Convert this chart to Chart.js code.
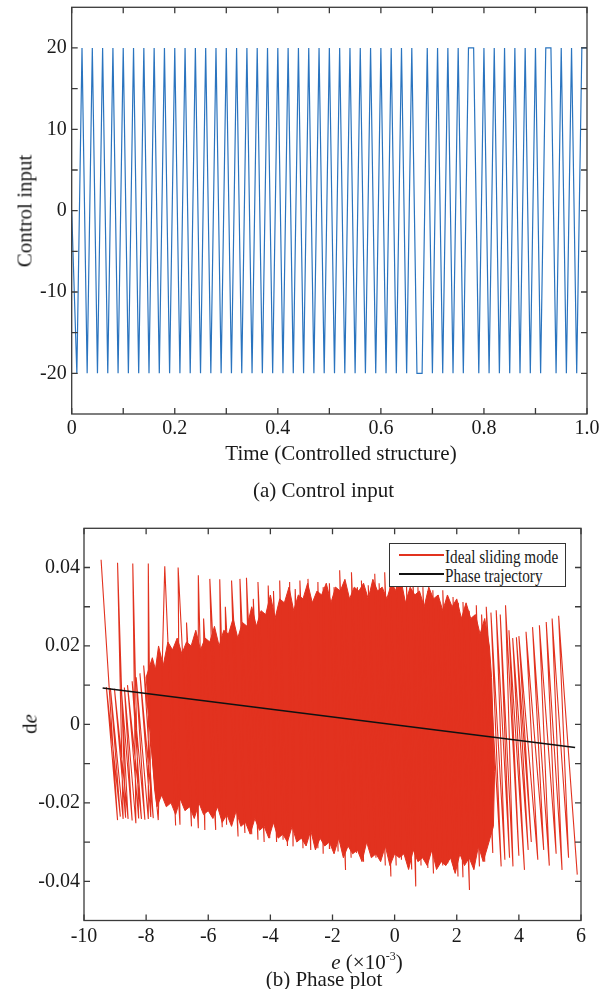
<!DOCTYPE html>
<html>
<head>
<meta charset="utf-8">
<script src="https://cdn.jsdelivr.net/npm/chart.js@4.4.1/dist/chart.umd.min.js"></script>
<style>
html,body{margin:0;padding:0;background:#fff;}
body{width:616px;height:989px;position:relative;overflow:hidden;font-family:'Liberation Serif','Times New Roman',serif;color:#1a1a1a;}
canvas{position:absolute;left:0;}
#cA{top:0;}
#cB{top:500px;}
.t{position:absolute;white-space:nowrap;font-size:21px;line-height:1;transform:translate(-50%,-50%);}
.r{transform:translate(-50%,-50%) rotate(-90deg);}
.t sup{font-size:12px;vertical-align:9px;line-height:0;}
#legend{position:absolute;left:388.7px;top:543.3px;width:177.3px;height:43.4px;border:1.2px solid #333;background:#fff;box-sizing:border-box;}
#legend .ln{position:absolute;height:1.4px;}
#legend .lt{position:absolute;font-size:19px;line-height:1;white-space:nowrap;transform-origin:0 50%;transform:translateY(-50%) scaleX(0.8);}
</style>
</head>
<body>
<canvas id="cA" width="616" height="445"></canvas>
<canvas id="cB" width="616" height="460"></canvas>

<div class="t r" style="left:25px;top:210.6px;">Control input</div>
<div class="t" style="left:341px;top:453px;">Time (Controlled structure)</div>
<div class="t" style="left:323.5px;top:490px;">(a) Control input</div>

<div class="t r" style="left:30px;top:724.4px;">d<i>e</i></div>
<div class="t" style="left:367px;top:962px;"><i>e</i> (×10<sup>-3</sup>)</div>
<div class="t" style="left:324px;top:979px;">(b) Phase plot</div>

<div id="legend"></div>

<script>
// ---------------- DATA ----------------
// (a) Control input vs time
const timeSec = [0.00,0.01,0.02,0.03,0.04,0.05,0.06,0.07,0.08,0.09,
0.10,0.11,0.12,0.13,0.14,0.15,0.16,0.17,0.18,0.19,
0.20,0.21,0.22,0.23,0.24,0.25,0.26,0.27,0.28,0.29,
0.30,0.31,0.32,0.33,0.34,0.35,0.36,0.37,0.38,0.39,
0.40,0.41,0.42,0.43,0.44,0.45,0.46,0.47,0.48,0.49,
0.50,0.51,0.52,0.53,0.54,0.55,0.56,0.57,0.58,0.59,
0.60,0.61,0.62,0.63,0.64,0.65,0.66,0.67,0.68,0.69,
0.70,0.71,0.72,0.73,0.74,0.75,0.76,0.77,0.78,0.79,
0.80,0.81,0.82,0.83,0.84,0.85,0.86,0.87,0.88,0.89,
0.90,0.91,0.92,0.93,0.94,0.95,0.96,0.97,0.98,0.99,1.00];
const controlInput = [0,-20,20,-20,20,-20,20,-20,20,-20,
20,-20,20,-20,20,-20,20,-20,20,-20,
20,-20,20,-20,20,-20,20,-20,20,-20,
20,-20,20,-20,20,-20,20,-20,20,-20,
20,-20,20,-20,20,-20,20,-20,20,-20,
20,-20,20,-20,20,-20,20,-20,20,-20,
20,-20,20,-20,20,-20,20,-20,-20,20,
-20,20,-20,20,-20,20,-20,20,20,-20,
20,-20,20,-20,20,-20,20,-20,20,-20,
20,-20,20,20,-20,20,-20,20,-20,20,20];
const topXTickValues = [0,0.1,0.2,0.3,0.4,0.5,0.6,0.7,0.8,0.9,1.0];
const topXTickLabels = ['0','','0.2','','0.4','','0.6','','0.8','','1.0'];
const topYTickValues = [-20,-15,-10,-5,0,5,10,15,20];
const topYTickLabels = ['-20','','-10','','0','','10','','20'];

// (b) Phase plot: e (x10^-3) vs de
const idealE = [
-9.45,-8.92, -9.28,-8.83, -9.15,-8.74, -8.92,-8.66, -9.02,-8.58, -8.80,-8.45, -8.70,-8.33, -8.43,-8.24,
-8.60,-8.15, -8.45,-8.04, -8.32,-7.93, -7.93,-7.85, -8.20,-7.77, -8.08,-7.61,
-7.40,-7.05, -7.25,-6.91, -6.97,-6.54, -6.70,-6.32, -6.32,-6.11, -6.15,-5.76, -5.95,-5.55, -5.63,-5.41, -5.45,-5.04, -5.25,-4.82,
-4.98,-4.60, -4.77,-4.40, -4.55,-4.20, -4.40,-4.02, -4.07,-3.80, -3.90,-3.59, -3.70,-3.45, -3.38,-3.27, -3.20,-2.95, -3.05,-2.70,
-2.79,-2.47, -2.47,-2.30, -2.30,-2.09, -2.10,-1.82, -1.95,-1.58, -1.77,-1.40, -1.60,-1.23, -1.39,-1.00, -1.20,-0.80, -1.07,-0.60,
-0.85,-0.43, -0.64,-0.30, -0.50,-0.12, -0.32,0.05, -0.15,0.22, 0.05,0.43, 0.20,0.55, 0.38,0.68, 0.59,0.85, 0.75,1.07,
0.91,1.25, 1.07,1.39, 1.23,1.55, 1.40,1.71, 1.55,1.90, 1.70,2.04, 1.88,2.20, 2.05,2.41, 2.20,2.55, 2.40,2.73,
2.63,2.90, 2.80,3.16, 2.95,3.43, 3.10,3.55, 3.27,3.70, 3.40,3.81, 3.57,4.00, 3.68,4.18, 3.80,4.30, 3.92,4.40,
4.00,4.61, 4.23,4.80, 4.44,4.98, 4.66,5.20, 4.88,5.39, 5.07,5.60, 5.28,5.88];
const idealDe = [
0.0420,-0.0244, 0.0095,-0.0235, 0.0092,-0.0241, 0.0412,-0.0238, 0.0091,-0.0241, 0.0090,-0.0245, 0.0094,-0.0252, 0.0410,-0.0240,
0.0100,-0.0241, 0.0110,-0.0243, 0.0120,-0.0241, 0.0410,-0.0236, 0.0130,-0.0239, 0.0150,-0.0244,
0.0403,-0.0258, 0.0200,-0.0256, 0.0400,-0.0260, 0.0260,-0.0265, 0.0380,-0.0269, 0.0270,-0.0269, 0.0371,-0.0262, 0.0370,-0.0256, 0.0300,-0.0286, 0.0367,-0.0277,
0.0371,-0.0280, 0.0374,-0.0294, 0.0320,-0.0300, 0.0363,-0.0290, 0.0354,-0.0300, 0.0340,-0.0294, 0.0367,-0.0310, 0.0363,-0.0311, 0.0345,-0.0316, 0.0367,-0.0320,
0.0371,-0.0316, 0.0363,-0.0330, 0.0350,-0.0316, 0.0360,-0.0324, 0.0350,-0.0371, 0.0393,-0.0340, 0.0360,-0.0328, 0.0388,-0.0350, 0.0350,-0.0320, 0.0367,-0.0340,
0.0355,-0.0328, 0.0384,-0.0360, 0.0360,-0.0388, 0.0388,-0.0360, 0.0360,-0.0345, 0.0376,-0.0362, 0.0355,-0.0370, 0.0363,-0.0413, 0.0376,-0.0360, 0.0350,-0.0366,
0.0350,-0.0380, 0.0340,-0.0345, 0.0342,-0.0360, 0.0330,-0.0354, 0.0342,-0.0370, 0.0320,-0.0388, 0.0325,-0.0390, 0.0310,-0.0422, 0.0312,-0.0370, 0.0290,-0.0362,
0.0304,-0.0350, 0.0280,-0.0328, 0.0300,-0.0362, 0.0285,-0.0345, 0.0291,-0.0340, 0.0280,-0.0362, 0.0304,-0.0335, 0.0240,-0.0371, 0.0220,-0.0320, 0.0222,-0.0300,
0.0225,-0.0345, 0.0236,-0.0320, 0.0248,-0.0360, 0.0253,-0.0330, 0.0261,-0.0371, 0.0270,-0.0340, 0.0277,-0.0383];
// outline of the densely overlapped (solid) part of the ideal sliding mode trace
const denseE = [
-8.00,-7.80,-7.70,-7.60,-7.45,-7.30,-7.15,-7.00,-6.85,-6.70,-6.55,-6.40,-6.25,-6.10,-5.95,-5.80,-5.65,-5.50,-5.35,-5.20,
-5.05,-4.90,-4.75,-4.60,-4.45,-4.30,-4.15,-4.00,-3.85,-3.70,-3.55,-3.40,-3.25,-3.10,-2.95,-2.80,-2.65,-2.50,-2.35,-2.20,
-2.05,-1.90,-1.75,-1.60,-1.45,-1.30,-1.15,-1.00,-0.85,-0.70,-0.55,-0.40,-0.25,-0.10,0.05,0.20,0.35,0.50,0.65,0.80,
0.95,1.10,1.25,1.40,1.55,1.70,1.85,2.00,2.15,2.30,2.45,2.60,2.75,2.90,3.05,3.12,
3.22,3.18,3.00,2.85,2.70,2.55,2.40,2.25,2.10,1.95,1.80,1.65,1.50,1.35,1.20,1.05,0.90,0.75,0.60,0.45,
0.30,0.15,0.00,-0.15,-0.30,-0.45,-0.60,-0.75,-0.90,-1.05,-1.20,-1.35,-1.50,-1.65,-1.80,-1.95,-2.10,-2.25,-2.40,-2.55,
-2.70,-2.85,-3.00,-3.15,-3.30,-3.45,-3.60,-3.75,-3.90,-4.05,-4.20,-4.35,-4.50,-4.65,-4.80,-4.95,-5.10,-5.25,-5.40,-5.55,
-5.70,-5.85,-6.00,-6.15,-6.30,-6.45,-6.60,-6.75,-6.90,-7.05,-7.20,-7.35,-7.50,-7.65,-7.72,-8.00];
const denseDe = [
0.012,0.017,0.014,0.020,0.015,0.021,0.019,0.022,0.018,0.021,0.020,0.024,0.019,0.022,0.021,0.025,0.020,0.024,0.023,0.027,
0.022,0.026,0.025,0.030,0.025,0.029,0.028,0.033,0.027,0.032,0.031,0.035,0.029,0.033,0.032,0.036,0.031,0.034,0.033,0.036,
0.031,0.035,0.034,0.037,0.032,0.035,0.034,0.036,0.032,0.037,0.034,0.035,0.032,0.036,0.034,0.037,0.031,0.035,0.033,0.034,
0.030,0.035,0.032,0.033,0.029,0.033,0.030,0.032,0.027,0.031,0.027,0.028,0.023,0.027,0.020,0.012,
-0.012,-0.026,-0.031,-0.035,-0.031,-0.037,-0.034,-0.036,-0.033,-0.038,-0.034,-0.036,-0.035,-0.037,-0.032,-0.036,-0.034,-0.035,-0.032,-0.037,
-0.033,-0.034,-0.033,-0.036,-0.031,-0.035,-0.033,-0.034,-0.030,-0.035,-0.032,-0.033,-0.031,-0.034,-0.029,-0.033,-0.030,-0.031,-0.029,-0.032,
-0.027,-0.031,-0.029,-0.030,-0.026,-0.030,-0.028,-0.029,-0.025,-0.029,-0.026,-0.027,-0.024,-0.028,-0.025,-0.026,-0.022,-0.026,-0.023,-0.025,
-0.021,-0.024,-0.022,-0.023,-0.020,-0.024,-0.021,-0.022,-0.019,-0.023,-0.020,-0.021,-0.018,-0.021,-0.017,0.012];
const trajE = [-9.40, 5.81];
const trajDe = [0.0093, -0.0059];
const botXTickValues = [-10,-8,-6,-4,-2,0,2,4,6];
const botXTickLabels = ['-10','-8','-6','-4','-2','0','2','4','6'];
const botYTickValues = [-0.04,-0.03,-0.02,-0.01,0,0.01,0.02,0.03,0.04];
const botYTickLabels = ['-0.04','','-0.02','','0','','0.02','','0.04'];

// ---------------- RENDER ----------------
const FONT = "'Liberation Serif','Times New Roman',serif";
const RED = '#e2321f';
function zip(xs, ys){ const n = Math.min(xs.length, ys.length); const out=[]; for(let i=0;i<n;i++) out.push({x:xs[i], y:ys[i]}); return out; }

const framePlugin = {
  id:'frame',
  afterDatasetsDraw(chart){
    const {ctx, chartArea:a, scales} = chart;
    const xs = scales.x, ys = scales.y, L = 6;
    ctx.save();
    ctx.strokeStyle = '#3a3a3a'; ctx.lineWidth = 1.3;
    ctx.beginPath();
    xs.ticks.forEach(t=>{const p = xs.getPixelForValue(t.value);
      ctx.moveTo(p,a.bottom); ctx.lineTo(p,a.bottom-L); ctx.moveTo(p,a.top); ctx.lineTo(p,a.top+L);});
    ys.ticks.forEach(t=>{const p = ys.getPixelForValue(t.value);
      ctx.moveTo(a.left,p); ctx.lineTo(a.left+L,p); ctx.moveTo(a.right,p); ctx.lineTo(a.right-L,p);});
    ctx.stroke();
    ctx.strokeRect(a.left,a.top,a.right-a.left,a.bottom-a.top);
    ctx.restore();
  }
};

function axis(min,max,vals,labels,pad,fit,isX){
  return {type:'linear',min,max,
    grid:{display:false,drawTicks:false},border:{display:false},
    afterBuildTicks:s=>{s.ticks=vals.map(v=>({value:v}));},
    afterFit:s=>{ if(isX) s.height=fit; else s.width=fit;
      s.paddingTop=0; s.paddingBottom=0; s.paddingLeft=0; s.paddingRight=0; },
    ticks:{autoSkip:false,maxRotation:0,minRotation:0,padding:pad,color:'#1a1a1a',
      font:{size:20,family:FONT},callback:(v,i)=>labels[i]}};
}
const common = {responsive:false,animation:false,devicePixelRatio:1,
  plugins:{legend:{display:false},tooltip:{enabled:false}}};

new Chart(document.getElementById('cA'),{
  type:'scatter',
  data:{datasets:[{label:'Control input',data:zip(timeSec,controlInput),showLine:true,
    borderColor:'#2a74bf',borderWidth:1.2,pointRadius:0,tension:0,fill:false}]},
  options:Object.assign({},common,{
    layout:{padding:{top:7.3,right:29,bottom:0,left:0}},
    scales:{
      x:axis(0,1,topXTickValues,topXTickLabels,2.3,31,true),
      y:axis(-25,25,topYTickValues,topYTickLabels,5,71.7,false)
    }}),
  plugins:[framePlugin]
});

const chartB = new Chart(document.getElementById('cB'),{
  type:'scatter',
  data:{datasets:[
    {label:'Phase trajectory',data:zip(trajE,trajDe),showLine:true,borderColor:'#111',borderWidth:1.6,pointRadius:0,tension:0,fill:false},
    {label:'Ideal sliding mode',data:zip(idealE,idealDe),showLine:true,borderColor:RED,borderWidth:1.1,pointRadius:0,tension:0,fill:false},
    {label:'',data:zip(denseE,denseDe),showLine:true,borderColor:RED,backgroundColor:RED,borderWidth:1,pointRadius:0,tension:0,fill:'shape'}
  ]},
  options:Object.assign({},common,{
    layout:{padding:{top:28.3,right:35,bottom:0,left:0}},
    scales:{
      x:axis(-10,6,botXTickValues,botXTickLabels,4.2,39.5,true),
      y:axis(-0.05,0.05,botYTickValues,botYTickLabels,4,84,false)
    }}),
  plugins:[framePlugin]
});

// legend (built from dataset labels / colours), in MATLAB order
const lg = document.getElementById('legend');
['Ideal sliding mode','Phase trajectory'].forEach((name,i)=>{
  const ds = chartB.data.datasets.find(d=>d.label===name);
  const y = 10.7 + i*19;
  const ln = document.createElement('div'); ln.className='ln';
  ln.style.cssText = `left:9.3px;width:45px;top:${y-0.7}px;background:${ds.borderColor};`;
  const tx = document.createElement('div'); tx.className='lt';
  tx.style.cssText = `left:55.6px;top:${y+1.5}px;`;
  tx.textContent = ds.label;
  lg.appendChild(ln); lg.appendChild(tx);
});
</script>
</body>
</html>
